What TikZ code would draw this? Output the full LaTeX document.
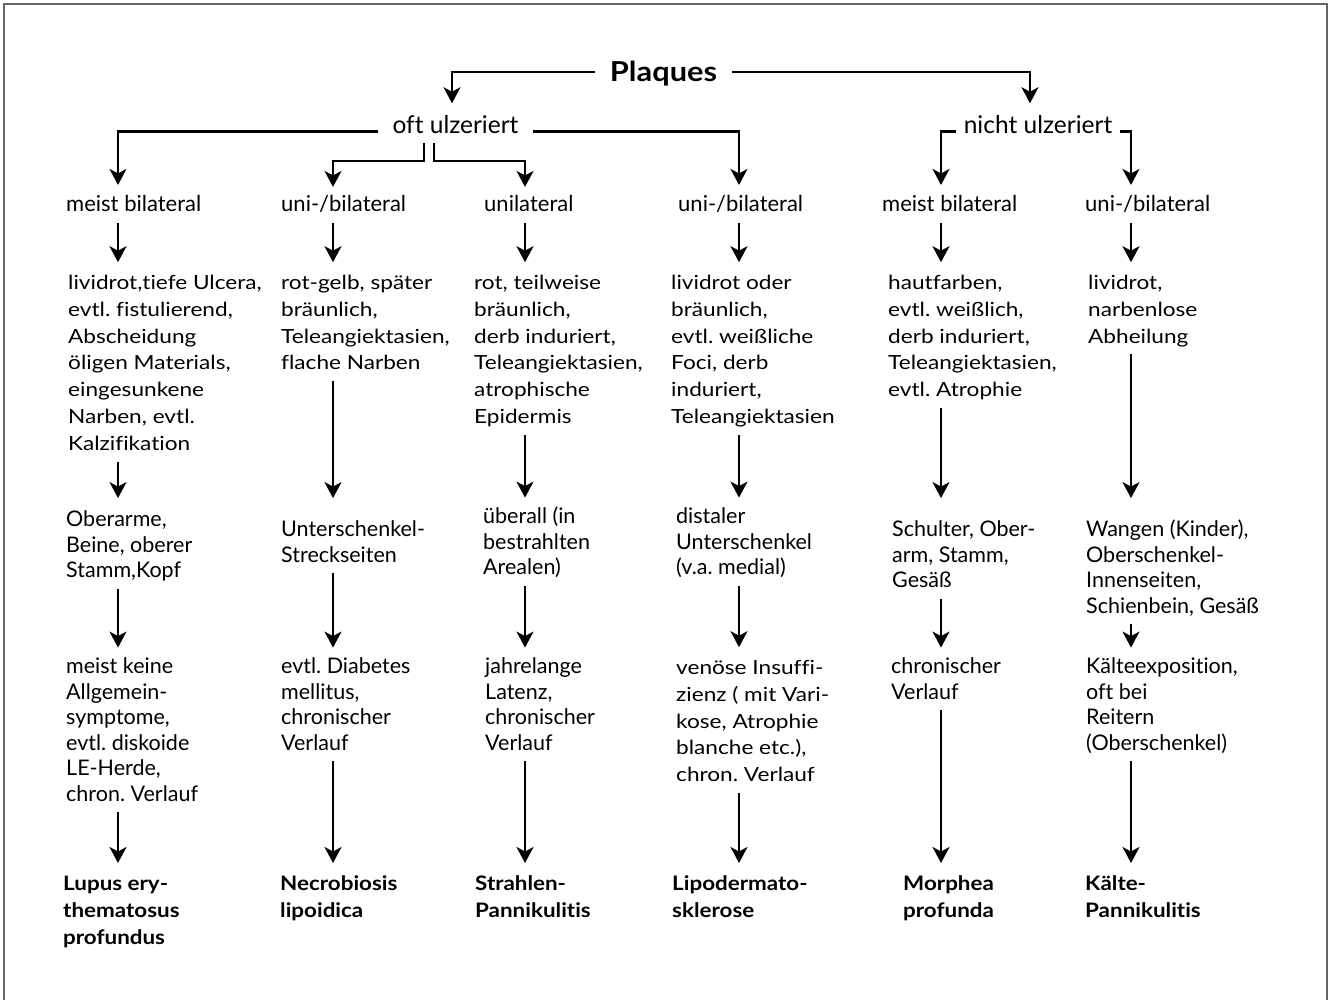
\documentclass[tikz,border=0pt]{standalone}
\usepackage{fontspec}
\setmainfont{Lato}[Ligatures={TeX,NoCommon}]
\newfontfamily\bodyfam{Lato}[FakeStretch=1.16, Ligatures={TeX,NoCommon}]
\newfontfamily\condfam{Lato}[Ligatures={TeX,NoCommon}]
\newfontfamily\boldfam{Lato}[FakeStretch=1.12, Ligatures={TeX,NoCommon}]
\usetikzlibrary{arrows.meta,calc}
\newcommand\bodyfnt{\frenchspacing\bodyfam\fontsize{19.5}{26.9}\selectfont}
\newcommand\condfnt{\frenchspacing\condfam\fontsize{21.5}{25.5}\selectfont}
\newcommand\headfnt{\frenchspacing\condfam\fontsize{22}{25.5}\selectfont}
\newcommand\branchfnt{\frenchspacing\condfam\fontsize{24.5}{28}\selectfont}
\newcommand\boldfnt{\frenchspacing\boldfam\bfseries\fontsize{20}{27}\selectfont}
\tikzset{
  normtxt/.style={anchor=north west, align=left, inner sep=0pt, font=\bodyfnt},
  condtxt/.style={anchor=north west, align=left, inner sep=0pt, font=\condfnt},
  boldtxt/.style={anchor=north west, align=left, inner sep=0pt, font=\boldfnt},
  headtxt/.style={anchor=base west, inner sep=0pt, font=\headfnt},
  link/.style={line width=2.2pt, -{Stealth[length=16pt,width=17pt,inset=4.5pt]}},
  flow/.style={link, shorten <=3pt, shorten >=8pt},
  frame/.style={draw=black!60, line width=2pt},
}
\begin{document}
\begin{tikzpicture}[x=1pt,y=-1pt]
\useasboundingbox (0,0) rectangle (1334,1000);
\draw[frame] (4,1010) -- (4,4) -- (1327,4) -- (1327,1010);

% column axes
\coordinate (X1) at (118,0);
\coordinate (X2) at (333,0);
\coordinate (X3) at (525,0);
\coordinate (X4) at (739,0);
\coordinate (X5) at (941,0);
\coordinate (X6) at (1131,0);
\coordinate (J) at (0,161);

% top of the tree
\node[anchor=base, inner xsep=15pt, inner ysep=0pt, font=\boldfam\bfseries\fontsize{27.5}{30}\selectfont] (P) at (663.5,82) {Plaques};
\node[anchor=base, inner xsep=14.5pt, inner ysep=3pt, font=\branchfnt] (OU) at (455.5,134) {oft ulzeriert};
\node[anchor=base, inner xsep=7.5pt, inner ysep=3pt, font=\branchfnt] (NU) at (1038,134) {nicht ulzeriert};

% first level: laterality
\node[headtxt] (h1) at (66,212)   {\strut meist bilateral};
\node[headtxt] (h2) at (281,212)  {\strut uni-/bilateral};
\node[headtxt] (h3) at (484,212)  {\strut unilateral};
\node[headtxt] (h4) at (678,212)  {\strut uni-/bilateral};
\node[headtxt] (h5) at (882,212)  {\strut meist bilateral};
\node[headtxt] (h6) at (1085,212) {\strut uni-/bilateral};

% clinical appearance
\node[normtxt] (b1) at (68,270.2) {\strut lividrot,tiefe Ulcera,\\evtl. fistulierend,\\Abscheidung\\öligen Materials,\\eingesunkene\\Narben, evtl.\\Kalzifikation\strut};
\node[normtxt] (b2) at (281,270.2) {\strut rot-gelb, später\\bräunlich,\\Teleangiektasien,\\flache Narben\strut};
\node[normtxt] (b3) at (474,270.2) {\strut rot, teilweise\\bräunlich,\\derb induriert,\\Teleangiektasien,\\atrophische\\Epidermis\strut};
\node[normtxt] (b4) at (671,270.2) {\strut lividrot oder\\bräunlich,\\evtl. weißliche\\Foci, derb\\induriert,\\Teleangiektasien\strut};
\node[normtxt] (b5) at (888,270.2) {\strut hautfarben,\\evtl. weißlich,\\derb induriert,\\Teleangiektasien,\\evtl. Atrophie\strut};
\node[normtxt] (b6) at (1088,270.2) {\strut lividrot,\\narbenlose\\Abheilung\strut};

% localisation
\node[condtxt] (c1) at (66,508.6)  {\strut Oberarme,\\Beine, oberer\\Stamm,Kopf\strut};
\node[condtxt] (c2) at (281,518.6) {\strut Unterschenkel-\\Streckseiten\strut};
\node[condtxt] (c3) at (483,505.6) {\strut überall (in\\bestrahlten\\Arealen)\strut};
\node[condtxt] (c4) at (676,505.6) {\strut distaler\\Unterschenkel\\(v.a. medial)\strut};
\node[condtxt] (c5) at (892,518.6) {\strut Schulter, Ober-\\arm, Stamm,\\Gesäß\strut};
\node[condtxt] (c6) at (1086,518.6) {\strut Wangen (Kinder),\\Oberschenkel-\\Innenseiten,\\Schienbein, Gesäß\strut};

% course and accompanying findings
\node[condtxt] (d1) at (66,655.6)  {\strut meist keine\\Allgemein-\\symptome,\\evtl. diskoide\\LE-Herde,\\chron. Verlauf\strut};
\node[condtxt] (d2) at (281,655.6) {\strut evtl. Diabetes\\mellitus,\\chronischer\\Verlauf\strut};
\node[condtxt] (d3) at (485,655.6) {\strut jahrelange\\Latenz,\\chronischer\\Verlauf\strut};
\node[normtxt] (d4) at (676,655.2) {\strut venöse Insuffi-\\zienz ( mit Vari-\\kose, Atrophie\\blanche etc.),\\chron. Verlauf\strut};
\node[condtxt] (d5) at (891,655.6) {\strut chronischer\\Verlauf\strut};
\node[condtxt] (d6) at (1086,655.6) {\strut Kälteexposition,\\oft bei\\Reitern\\(Oberschenkel)\strut};

% diagnoses
\node[boldtxt] (e1) at (63,871)   {\strut Lupus ery-\\thematosus\\profundus\strut};
\node[boldtxt] (e2) at (280,871)  {\strut Necrobiosis\\lipoidica\strut};
\node[boldtxt] (e3) at (475,871)  {\strut Strahlen-\\Pannikulitis\strut};
\node[boldtxt] (e4) at (672,871)  {\strut Lipodermato-\\sklerose\strut};
\node[boldtxt] (e5) at (903,871)  {\strut Morphea\\profunda\strut};
\node[boldtxt] (e6) at (1085,871) {\strut Kälte-\\Pannikulitis\strut};

% branching from the top
\draw[link, shorten >=9.5pt] ([yshift=10pt]P.base west) -| ([xshift=-3.5pt]OU.north);
\draw[link, shorten >=9.5pt] ([yshift=10pt]P.base east) -| ([xshift=-8pt]NU.north);
\draw[link, shorten >=9pt] (OU.mid west) -| (h1.north -| X1);
\draw[link, shorten >=9pt] (OU.mid east) -| (h4.north -| X4);
\draw[link, shorten >=9pt] (NU.mid west) -| (h5.north -| X5);
\draw[link, shorten >=9pt] (NU.mid east) -| (h6.north -| X6);
\coordinate (s2) at ([xshift=-31.5pt,yshift=-6pt]OU.south);
\coordinate (s3) at ([xshift=-21.5pt,yshift=-6pt]OU.south);
\draw[link, shorten >=7pt] (s2) -- (s2 |- J) -| (h2.north -| X2);
\draw[link, shorten >=7pt] (s3) -- (s3 |- J) -| (h3.north -| X3);

% vertical flow in each column
\foreach \k in {1,...,6}{
  \draw[flow] (h\k.south -| X\k) -- (b\k.north -| X\k);
  \draw[flow] (c\k.south -| X\k) -- (d\k.north -| X\k);
  \draw[flow] (d\k.south -| X\k) -- (e\k.north -| X\k);
}
\draw[flow, shorten >=10.5pt] (b1.south -| X1) -- (c1.north -| X1);
\draw[flow, shorten >=20.5pt] (b2.south -| X2) -- (c2.north -| X2);
\draw[flow] (b3.south -| X3) -- (c3.north -| X3);
\draw[flow] (b4.south -| X4) -- (c4.north -| X4);
\draw[flow, shorten >=20.5pt] (b5.south -| X5) -- (c5.north -| X5);
\draw[flow, shorten >=20.5pt] (b6.south -| X6) -- (c6.north -| X6);
\end{tikzpicture}
\end{document}
